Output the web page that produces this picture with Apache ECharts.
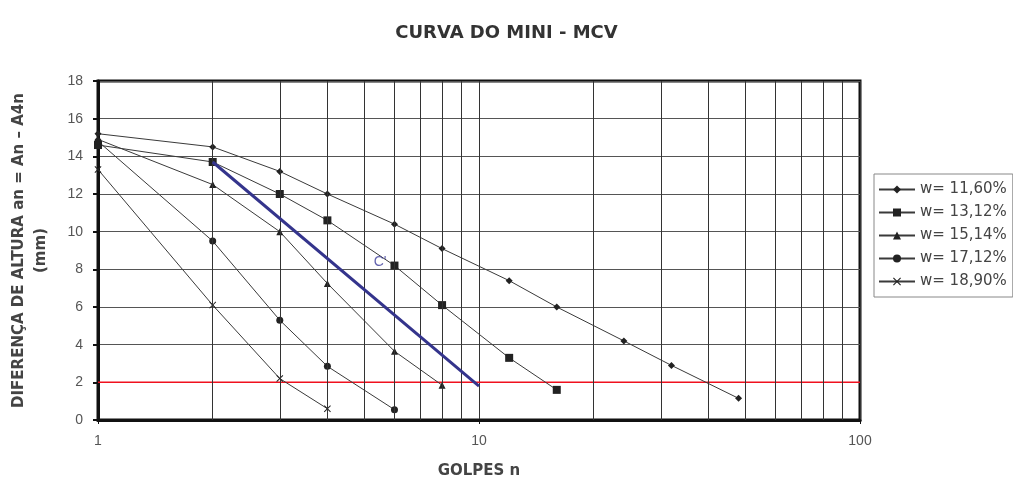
<!DOCTYPE html>
<html>
<head>
<meta charset="utf-8">
<script src="https://cdn.jsdelivr.net/npm/echarts@6/dist/echarts.min.js"></script>
<style>
  html, body { margin: 0; padding: 0; background: #fff; }
  #chart { width: 1013px; height: 484px; }
</style>
</head>
<body>
<div id="chart"></div>
<script>
// golpes (n) and height differences (mm) for each moisture content
const seriesNames = ['w= 11,60%', 'w= 13,12%', 'w= 15,14%', 'w= 17,12%', 'w= 18,90%']
const golpes1 = [1, 2, 3, 4, 6, 8, 12, 16, 24, 32, 48]
const altura1 = [15.2, 14.5, 13.2, 12.0, 10.4, 9.1, 7.4, 6.0, 4.2, 2.9, 1.15]
const golpes2 = [1, 2, 3, 4, 6, 8, 12, 16]
const altura2 = [14.6, 13.7, 12.0, 10.6, 8.2, 6.1, 3.3, 1.6]
const golpes3 = [1, 2, 3, 4, 6, 8]
const altura3 = [14.9, 12.5, 10.0, 7.25, 3.65, 1.85]
const golpes4 = [1, 2, 3, 4, 6]
const altura4 = [14.8, 9.5, 5.3, 2.85, 0.55]
const golpes5 = [1, 2, 3, 4]
const altura5 = [13.3, 6.1, 2.2, 0.6]

// reference lines
const curvaC = [[2, 13.7], [10, 1.8]]
const curvaCLabel = [[5.5, 8.4]]
const linhaLimite = [[1, 2], [100, 2]]
const minorX = [2, 3, 4, 5, 6, 7, 8, 9, 20, 30, 40, 50, 60, 70, 80, 90]

const xCross = 'path://M0,1L1,0L5,4L9,0L10,1L6,5L10,9L9,10L5,6L1,10L0,9L4,5Z'
const symbols = ['diamond', 'rect', 'triangle', 'circle', xCross]
const symbolSizes = [7, 8, 7, 7, 7]
const golpes = [golpes1, golpes2, golpes3, golpes4, golpes5]
const alturas = [altura1, altura2, altura3, altura4, altura5]

const chart = echarts.init(document.getElementById('chart'))

const dataSeries = seriesNames.map((name, i) => ({
  name,
  type: 'line',
  z: 4,
  data: golpes[i].map((g, k) => [g, alturas[i][k]]),
  symbol: symbols[i],
  symbolSize: symbolSizes[i],
  showSymbol: true,
  lineStyle: { color: '#3a3a3a', width: 1 },
  itemStyle: { color: '#222' }
}))

const option = {
  backgroundColor: '#fff',
  animation: false,
  title: {
    text: 'CURVA DO MINI - MCV',
    left: 'center',
    top: 19,
    textStyle: { fontFamily: 'DejaVu Sans', fontSize: 18, fontWeight: 'bold', color: '#333' }
  },
  legend: {
    data: seriesNames,
    orient: 'vertical',
    left: 874,
    top: 174,
    itemWidth: 36,
    itemHeight: 10,
    itemGap: 8,
    padding: [8, 6, 8, 4],
    borderColor: '#888',
    borderWidth: 1,
    textStyle: { fontFamily: 'DejaVu Sans', fontSize: 15, color: '#444' }
  },
  grid: { left: 94, right: 153, top: 81, bottom: 63, show: true, borderColor: '#111', borderWidth: 3, backgroundColor: '#fff' },
  xAxis: {
    type: 'log',
    logBase: 10,
    min: 1,
    max: 100,
    name: 'GOLPES n',
    nameLocation: 'middle',
    nameGap: 44,
    nameTextStyle: { fontFamily: 'DejaVu Sans', fontSize: 15, fontWeight: 'bold', color: '#444' },
    axisLine: { lineStyle: { color: '#111', width: 3 } },
    axisTick: { show: true, length: 4, lineStyle: { color: '#111' } },
    axisLabel: { fontFamily: 'Liberation Sans', fontSize: 14, color: '#555', margin: 14 },
    splitLine: { show: true, lineStyle: { color: '#333', width: 1 } }
  },
  yAxis: {
    type: 'value',
    min: 0,
    max: 18,
    interval: 2,
    name: 'DIFERENÇA DE ALTURA an = An – A4n\n(mm)',
    nameLocation: 'middle',
    nameGap: 46,
    nameTextStyle: { fontFamily: 'DejaVu Sans', fontSize: 15, fontWeight: 'bold', color: '#444', lineHeight: 22 },
    axisLine: { lineStyle: { color: '#111', width: 3 } },
    axisTick: { show: true, length: 5, lineStyle: { color: '#111', width: 2 } },
    axisLabel: { fontFamily: 'Liberation Sans', fontSize: 14, color: '#555', margin: 15 },
    splitLine: { show: true, lineStyle: { color: '#555', width: 1 } }
  },
  series: [
    {
      name: 'limite',
      type: 'line',
      z: 2,
      data: linhaLimite,
      symbol: 'none',
      lineStyle: { color: '#f0101e', width: 1.5 },
      markLine: {
        silent: true,
        symbol: 'none',
        label: { show: false },
        lineStyle: { color: '#333', width: 1, type: 'solid' },
        data: minorX.map(v => ({ xAxis: v }))
      }
    },
    ...dataSeries,
    {
      name: 'C',
      type: 'line',
      z: 5,
      data: curvaC,
      symbol: 'none',
      lineStyle: { color: '#34348c', width: 3 }
    },
    {
      name: 'C label',
      type: 'scatter',
      z: 5,
      data: curvaCLabel,
      symbolSize: 0,
      label: {
        show: true,
        formatter: "C'",
        position: 'inside',
        fontFamily: 'Liberation Sans',
        fontSize: 14,
        color: '#3b3b9a'
      }
    }
  ]
}

chart.setOption(option)
</script>
</body>
</html>
